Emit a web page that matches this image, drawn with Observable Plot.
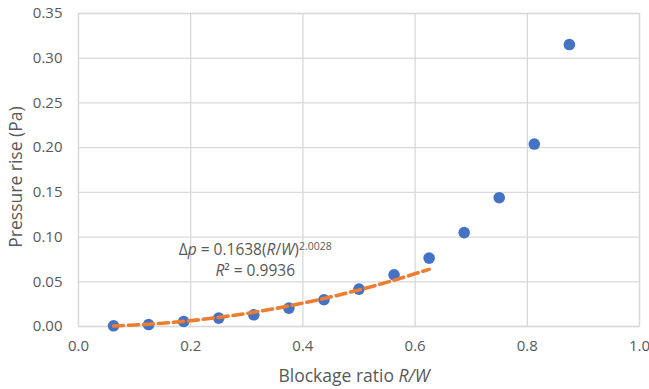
<!DOCTYPE html>
<html>
<head>
<meta charset="utf-8">
<script src="https://cdn.jsdelivr.net/npm/d3@7"></script>
<script src="https://cdn.jsdelivr.net/npm/@observablehq/plot@0.6"></script>
<style>
  html, body { margin: 0; padding: 0; background: #fff; }
  #chart svg { display: block; }
</style>
</head>
<body>
<div id="chart"></div>
<script>
// Data
const blockageRatio = [0.0625, 0.125, 0.1875, 0.25, 0.3125, 0.375, 0.4375, 0.5, 0.5625, 0.625, 0.6875, 0.75, 0.8125, 0.875];
const pressureRise  = [0.0008, 0.0022, 0.0056, 0.0094, 0.0131, 0.0206, 0.0299, 0.0418, 0.0578, 0.0765, 0.105, 0.144, 0.204, 0.3153];
// Power-law trendline values (Δp = 0.1638 (R/W)^2.0028) at the fitted points
const trendX = [0.0625, 0.125, 0.1875, 0.25, 0.3125, 0.375, 0.4375, 0.5, 0.5625, 0.625];
const trendY = [0.000635, 0.002545, 0.005732, 0.010198, 0.015944, 0.022971, 0.031279, 0.040871, 0.051744, 0.0639];
const xTicks = [0, 0.2, 0.4, 0.6, 0.8, 1.0];
const yTicks = [0, 0.05, 0.1, 0.15, 0.2, 0.25, 0.3, 0.35];
const annotation = [{x: 0.315, y: 0.0855, line: 1}, {x: 0.315, y: 0.0620, line: 2}];

const points = blockageRatio.map((x, i) => ({x, y: pressureRise[i]}));
const trend = trendX.map((x, i) => ({x, y: trendY[i]}));

const FONT = "'Open Sans', 'Noto Sans', sans-serif";
const GREY = "#595959";

const plot = Plot.plot({
  width: 649,
  height: 389,
  marginLeft: 78,
  marginRight: 10,
  marginTop: 13,
  marginBottom: 63,
  style: {fontFamily: FONT, fontSize: "14px", color: GREY, background: "#fff", overflow: "visible"},
  x: {domain: [0, 1]},
  y: {domain: [0, 0.35]},
  marks: [
    Plot.gridX(xTicks, {stroke: "#d9d9d9", strokeOpacity: 1, strokeWidth: 1.3}),
    Plot.gridY(yTicks, {stroke: "#d9d9d9", strokeOpacity: 1, strokeWidth: 1.3}),
    Plot.frame({stroke: "#d9d9d9", strokeWidth: 1.3}),
    Plot.axisX(xTicks, {tickSize: 0, tickPadding: 14, tickFormat: d3.format(".1f"), fill: GREY, fontSize: 15, label: null, className: "xax"}),
    Plot.axisY(yTicks, {tickSize: 0, tickPadding: 16, tickFormat: d3.format(".2f"), fill: GREY, fontSize: 15, label: null, className: "yax"}),
    Plot.dot(points, {x: "x", y: "y", r: 5.8, fill: "#4472C4", stroke: "none"}),
    Plot.line(trend, {x: "x", y: "y", stroke: "#ED7D31", strokeWidth: 3.6, strokeDasharray: "10,5", curve: "catmull-rom"}),
    Plot.text(annotation, {x: "x", y: "y", text: d => d.line === 1 ? "Δp = 0.1638(R/W)2.0028" : "R² = 0.9936",
      fill: GREY, fontSize: 15.5, textAnchor: "middle", className: "eqn"})
  ]
});

document.getElementById("chart").appendChild(plot);
const svg = d3.select(plot);

// Larger tick labels
svg.selectAll("g.xax, g.xax text, g.yax, g.yax text").attr("font-size", "15px").style("font-size", "15px");

// Rich text for the equation annotation
svg.selectAll("g.eqn text").each(function(d, i) {
  const t = d3.select(this);
  t.text(null);
  const idx = (typeof d === "number") ? d : i;
  const line = annotation[idx].line;
  if (line === 1) {
    t.append("tspan").text("Δ");
    t.append("tspan").attr("font-style", "italic").text("p");
    t.append("tspan").text(" = 0.1638(");
    t.append("tspan").attr("font-style", "italic").text("R");
    t.append("tspan").text("/");
    t.append("tspan").attr("font-style", "italic").text("W");
    t.append("tspan").text(")");
    t.append("tspan").attr("dy", "-0.45em").attr("font-size", "10.5px").text("2.0028");
  } else {
    t.append("tspan").attr("font-style", "italic").text("R");
    t.append("tspan").text("² = 0.9936");
  }
});

// Axis titles
svg.append("text")
  .attr("x", 354).attr("y", 382)
  .attr("text-anchor", "middle")
  .attr("fill", GREY).attr("font-size", "17.5px").attr("font-family", FONT)
  .call(t => {
    t.append("tspan").text("Blockage ratio ");
    t.append("tspan").attr("font-style", "italic").text("R/W");
  });
svg.append("text")
  .attr("transform", "translate(22,177) rotate(-90)")
  .attr("text-anchor", "middle")
  .attr("fill", GREY).attr("font-size", "17.5px").attr("font-family", FONT)
  .text("Pressure rise (Pa)");
</script>
</body>
</html>
